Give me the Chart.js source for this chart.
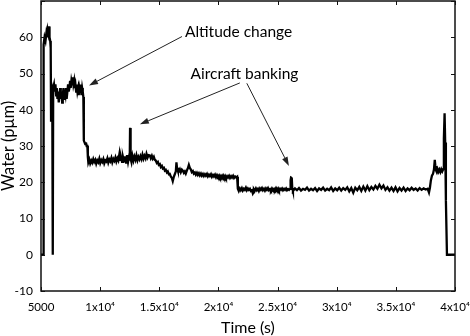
<!DOCTYPE html>
<html><head><meta charset="utf-8">
<script src="https://cdn.jsdelivr.net/npm/chart.js@4/dist/chart.umd.min.js"></script>
<style>html,body{margin:0;padding:0;background:#fff;}</style>
</head><body>
<canvas id="c" width="470" height="336"></canvas>
<script>
// ---- data: [time (s), water (pμm)] ----
const startPhase = [[5000,0],[5200,0],[5220,58],[5300,60],[5380,59],[5450,61],[5500,60],[5560,62],[5620,61],[5680,63],[5720,60],[5780,59],[5820,57],[5850,37],[5880,47],[5950,46],[5980,0],[6010,0],[6030,46]];
const highPhase = [[6100,47],[6160,45],[6220,47],[6280,44],[6330,46],[6390,43],[6450,45],[6500,42],[6560,44],[6620,46],[6670,43],[6730,45],[6790,42],[6840,44],[6900,46],[6960,43],[7010,45],[7070,44],[7120,46],[7170,43],[7230,45],[7290,47],[7340,45],[7400,46],[7460,48],[7510,46],[7570,48],[7630,47],[7680,49],[7740,47],[7800,48],[7850,46],[7910,47],[7970,45],[8020,47],[8080,45],[8140,46],[8190,44],[8250,46],[8310,45],[8360,47],[8420,44],[8480,46],[8530,45],[8580,43.5],[8620,31.5],[8680,31],[8740,30.5],[8800,31],[8860,30],[8920,30],[8960,27]];
const cruiseA = [[9000,25.5],[9080,26.3],[9160,25.2],[9250,26],[9330,25.4],[9420,26.4],[9500,25.6],[9590,26.2],[9670,25.1],[9760,26],[9840,25.5],[9930,26.5],[10010,25.3],[10100,26.1],[10180,25.6],[10270,26.4],[10350,25.2],[10440,26],[10520,25.7],[10610,26.6],[10690,25.4],[10780,26.3],[10860,25.8],[10950,26.7],[11030,25.5],[11120,26.4],[11200,25.9],[11290,26.8],[11370,25.7],[11460,26.6],[11540,26],[11630,27.8],[11680,26.2],[11760,26.9],[11850,25.6],[11930,27],[12020,25.8],[12100,27.2],[12190,25.4],[12270,27.5],[12360,25.6],[12440,27],[12500,26],[12530,35],[12560,35],[12590,26.5],[12650,25.5],[12730,27.3],[12820,26],[12900,27.1],[12990,26.2],[13070,27.4],[13160,26.1],[13240,27],[13330,26.3],[13410,27.2],[13500,26.4],[13580,27.6],[13670,26.5],[13750,27.3],[13840,26.6],[13920,27.8],[14010,26.8],[14100,27.5],[14200,27.4],[14280,26.6]];
const descentB = [[14370,27.3],[14450,26.5],[14540,27],[14620,26.2],[14700,26],[14790,25.3],[14880,25.6],[14960,24.8],[15050,25],[15130,24.2],[15220,24.5],[15300,23.8],[15390,24],[15470,23.2],[15550,23.4],[15640,22.7],[15720,23],[15810,22.2],[15890,22.3],[15970,21.6],[16060,21.2],[16140,20.3],[16230,21.5],[16310,22.2],[16400,23],[16450,25.5],[16500,24],[16570,23.2],[16650,23],[16740,23.6],[16820,22.8],[16910,23.5],[16990,23.2],[17080,22.6],[17160,23],[17240,22.4],[17330,23.2],[17410,23.8],[17500,24.8],[17580,24],[17670,23.5],[17750,22.8],[17840,23.1],[17920,22.4],[18010,22.7],[18090,22.1],[18180,22.6],[18260,22],[18350,22.5],[18430,21.9],[18520,22.4],[18600,21.8],[18690,22.3],[18770,21.7],[18860,22.2],[18940,21.8],[19030,22.3],[19110,21.6],[19200,22.1],[19280,21.7],[19370,22.2],[19450,21.5],[19540,22],[19620,21.6],[19710,22.1],[19790,21.4],[19880,22],[19960,21.5],[20050,21.9],[20130,21.3],[20220,21.8],[20300,21.4],[20390,21.9],[20470,21.3],[20560,21.8],[20640,21.2],[20730,21.7],[20810,21.3],[20900,21.8],[20980,21.2],[21070,21.7],[21150,21.3],[21240,21.8],[21320,21.2],[21410,21.6],[21500,21.3],[21580,21.5]];
const cruiseC = [[21640,18.2],[21720,17.6],[21810,18.3],[21890,17.8],[21980,18.4],[22060,17.7],[22150,18.2],[22230,17.9],[22320,18.5],[22400,17.8],[22490,18.3],[22570,17.9],[22660,18.2],[22740,17.6],[22830,17.8],[22910,16.9],[22960,17.2],[23000,18.1],[23080,17.7],[23170,18.3],[23250,17.8],[23340,18.2],[23420,17.6],[23510,18.3],[23590,17.9],[23680,18.4],[23760,17.8],[23850,18.2],[23930,17.7],[24020,18.3],[24100,17.9],[24190,18.4],[24270,17.8],[24360,18.1],[24440,17.7],[24530,18.3],[24610,17.9],[24700,18.2],[24780,17.8],[24870,18.4],[24950,17.9],[25040,18.3],[25120,17.7],[25210,18.2],[25290,17.9],[25380,18.3],[25460,17.8],[25550,18.2],[25630,17.9],[25720,18.3],[25800,17.8],[25890,18.1],[25970,17.9],[26060,18.2],[26100,20.5],[26140,21.3],[26200,21.2],[26240,18.4]];
const cruiseD = [[26300,17.6],[26470,18.3],[26640,17.8],[26810,18.4],[26980,17.7],[27150,18.2],[27320,17.9],[27490,18.5],[27660,17.7],[27830,18.2],[28000,17.8],[28170,18.4],[28340,17.6],[28510,18.3],[28680,17.9],[28850,18.5],[29020,17.7],[29190,18.2],[29360,17.8],[29530,18.6],[29700,17.6],[29870,18.3],[30040,17.8],[30210,18.5],[30380,17.7],[30550,18.4],[30720,17.9],[30890,18.6],[31060,17.5],[31230,18.4],[31400,17.1],[31570,18.5],[31740,17.8],[31910,18.7],[32080,17.6],[32250,18.8],[32420,17.7],[32590,18.9],[32760,17.8],[32930,18.7],[33100,18],[33270,19],[33440,18.2],[33610,19.3],[33780,18.3],[33950,19.1],[34120,17.9],[34290,18.6],[34460,17.7],[34630,18.5],[34800,17.6],[34970,18.6],[35140,17.5],[35310,18.4],[35480,17.7],[35650,18.5],[35820,17.6],[35990,18.3],[36160,17.8],[36330,18.5],[36500,17.9],[36670,18.3],[36840,17.7],[37010,18.4],[37180,17.9],[37350,18.3],[37520,18],[37690,18.2],[37800,17.2],[37880,18.5]];
const endPhase = [[37960,20.5],[38050,21.8],[38140,22.3],[38220,23.5],[38290,26.2],[38340,24.5],[38390,23.3],[38460,22.8],[38530,23.6],[38600,22.9],[38680,23.5],[38760,22.8],[38840,23.6],[38920,23],[39000,23.6],[39060,32],[39120,39],[39170,31],[39230,15],[39320,0],[40000,0]];

const xTicks = [5000,10000,15000,20000,25000,30000,35000,40000];
const xTickLabels = ['5000','1x10\u2074','1.5x10\u2074','2x10\u2074','2.5x10\u2074','3x10\u2074','3.5x10\u2074','4x10\u2074'];
const yRange = [-10, 70];

// annotations (data units)
const noteTexts = ['Altitude change', 'Aircraft banking'];
const noteAt = [[21700, 61.5], [22200, 49.8]];
const arrows = [[16920, 60.2, 9060, 46.7], [21810, 47.4, 13360, 36], [22400, 47.3, 25960, 24.5]];

const FONT = 'Lato, "Open Sans", sans-serif';
const points = [].concat(startPhase, highPhase, cruiseA, descentB, cruiseC, cruiseD, endPhase).map(p => ({x: p[0], y: p[1]}));

const frameTicks = {
  id: 'frameTicks',
  afterDatasetsDraw(chart) {
    const {ctx, chartArea: a, scales: {x, y}} = chart;
    ctx.save();
    ctx.strokeStyle = '#111';
    ctx.lineWidth = 1.5;
    ctx.strokeRect(a.left, a.top, a.right - a.left, a.bottom - a.top);
    ctx.lineWidth = 1;
    ctx.beginPath();
    xTicks.forEach(v => {
      const px = Math.round(x.getPixelForValue(v)) + 0.5;
      ctx.moveTo(px, a.bottom); ctx.lineTo(px, a.bottom - 4);
      ctx.moveTo(px, a.top); ctx.lineTo(px, a.top + 4);
    });
    for (let v = yRange[0]; v <= yRange[1]; v += 10) {
      const py = Math.round(y.getPixelForValue(v)) + 0.5;
      ctx.moveTo(a.left, py); ctx.lineTo(a.left + 4, py);
      ctx.moveTo(a.right, py); ctx.lineTo(a.right - 4, py);
    }
    ctx.stroke();
    ctx.restore();
  }
};

const notes = {
  id: 'notes',
  afterDraw(chart) {
    const {ctx, scales: {x, y}} = chart;
    ctx.save();
    ctx.fillStyle = '#000';
    ctx.font = '15.5px ' + FONT;
    ctx.textAlign = 'center';
    ctx.textBaseline = 'middle';
    noteTexts.forEach((t, i) => ctx.fillText(t, x.getPixelForValue(noteAt[i][0]), y.getPixelForValue(noteAt[i][1])));
    ctx.strokeStyle = '#222';
    ctx.fillStyle = '#222';
    ctx.lineWidth = 1;
    arrows.forEach(a => {
      const x1 = x.getPixelForValue(a[0]), y1 = y.getPixelForValue(a[1]);
      const x2 = x.getPixelForValue(a[2]), y2 = y.getPixelForValue(a[3]);
      const ang = Math.atan2(y2 - y1, x2 - x1);
      const L = 9, W = 3;
      const bx = x2 - L * Math.cos(ang), by = y2 - L * Math.sin(ang);
      ctx.beginPath(); ctx.moveTo(x1, y1); ctx.lineTo(bx, by); ctx.stroke();
      ctx.beginPath();
      ctx.moveTo(x2, y2);
      ctx.lineTo(bx + W * Math.sin(ang), by - W * Math.cos(ang));
      ctx.lineTo(bx - W * Math.sin(ang), by + W * Math.cos(ang));
      ctx.closePath(); ctx.fill();
    });
    ctx.restore();
  }
};

new Chart(document.getElementById('c'), {
  type: 'scatter',
  data: { datasets: [{ data: points, showLine: true, borderColor: '#000', borderWidth: 2.3, pointRadius: 0, tension: 0, fill: false }] },
  options: {
    responsive: false, animation: false, devicePixelRatio: 1,
    layout: { padding: { top: 1, right: 15, left: 0, bottom: 0 } },
    plugins: { legend: { display: false }, tooltip: { enabled: false } },
    scales: {
      x: {
        type: 'linear', min: 5000, max: 40000,
        afterBuildTicks: s => { s.ticks = xTicks.map(v => ({ value: v })); },
        afterFit: s => { s.height = 45; s.paddingLeft = 0; s.paddingRight = 0; },
        grid: { display: false, drawTicks: false },
        border: { display: false },
        ticks: { padding: 9, color: '#000', font: { family: FONT, size: 11.5 }, maxRotation: 0, autoSkip: false,
          callback: v => { const i = xTicks.indexOf(v); return i >= 0 ? xTickLabels[i] : ''; } },
        title: { display: true, text: 'Time (s)', color: '#000', font: { family: FONT, size: 16, lineHeight: 1 }, padding: { top: 0, bottom: 0 } }
      },
      y: {
        min: yRange[0], max: yRange[1],
        afterFit: s => { s.width = 41; s.paddingTop = 0; s.paddingBottom = 0; },
        grid: { display: false, drawTicks: false },
        border: { display: false },
        ticks: { stepSize: 10, padding: 8, color: '#000', font: { family: FONT, size: 12 },
          callback: v => (v === yRange[1] ? '' : v) },
        title: { display: true, text: 'Water (p\u03bcm)', color: '#000', font: { family: FONT, size: 16.5, lineHeight: 1 }, padding: { top: 0, bottom: 0 } }
      }
    }
  },
  plugins: [frameTicks, notes]
});
</script>
</body></html>
